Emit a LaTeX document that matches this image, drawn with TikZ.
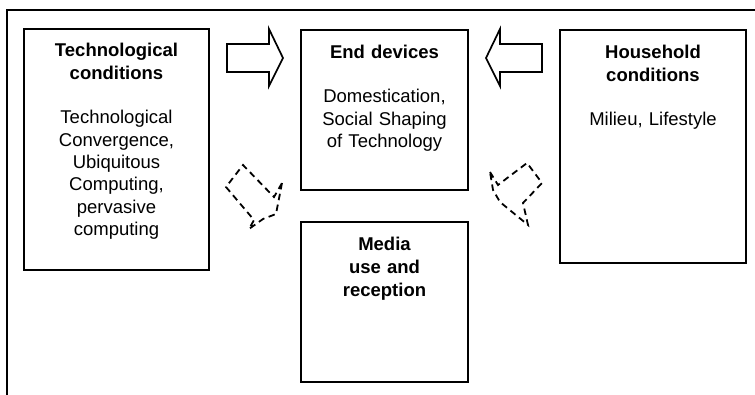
\documentclass[tikz,border=0pt]{standalone}
\usepackage{fontspec}
\setmainfont{Liberation Sans}
\begin{document}
\begin{tikzpicture}[x=1pt,y=-1pt,
  box/.style={draw=black,line width=1.9pt,inner sep=0pt,outer sep=0pt},
  blockarrow/.style={draw=black,line width=1.7pt,line join=miter},
  dasharrow/.style={draw=black,line width=1.8pt,dash pattern=on 6.5pt off 4.5pt},
  ttl/.style={anchor=base,inner sep=0pt,text width=180pt,align=center,font=\fontsize{18.5}{22.6}\selectfont\bfseries},
  bdy/.style={anchor=base,inner sep=0pt,text width=180pt,align=center,font=\fontsize{18.5}{22.3}\selectfont}]
\useasboundingbox (0,0) rectangle (755,395);
% outer frame
\draw[line width=1.6pt] (760,10) -- (7,10) -- (7,400);
% boxes
\node[box,minimum width=185pt,minimum height=241pt] (tech) at (116.5,149.5) {};
\node[box,minimum width=167pt,minimum height=160pt] (endd) at (384.5,110) {};
\node[box,minimum width=167pt,minimum height=160pt] (media) at (384.5,302) {};
\node[box,minimum width=186pt,minimum height=233pt] (house) at (653,146.5) {};
% texts
\node[ttl] (techt) at (116.5,57) {Technological\\conditions};
\node[bdy] (techb) at (116.5,124) {Technological\\Convergence,\\Ubiquitous\\Computing,\\pervasive\\computing};
\node[ttl] (enddt) at (384.5,59) {End devices};
\node[bdy] (enddb) at (384.5,103) {Domestication,\\Social Shaping\\of Technology};
\node[ttl] (houset) at (653,59) {Household\\conditions};
\node[bdy] (houseb) at (653,126) {Milieu, Lifestyle};
\node[ttl] (mediat) at (384.5,251) {Media\\use and\\reception};
% block arrows
\draw[blockarrow] (227,44) -- (269,44) -- (269,29) -- (283,58) -- (269,86) -- (269,72) -- (227,72) -- cycle;
\draw[blockarrow] (542,44) -- (500,44) -- (500,29) -- (486,58) -- (500,86) -- (500,72) -- (542,72) -- cycle;
% dashed curved arrows
\draw[dasharrow] (282,183) -- (276,214) -- (263,219) -- (249,229) -- (254,220) -- (226,187) -- (243,165) -- (274,197) -- cycle;
\draw[dasharrow] (490,172) -- (498,185) -- (527,163) -- (542,183) -- (523,203) -- (528,225) -- (500,202) -- (493,190) -- cycle;
\end{tikzpicture}
\end{document}
